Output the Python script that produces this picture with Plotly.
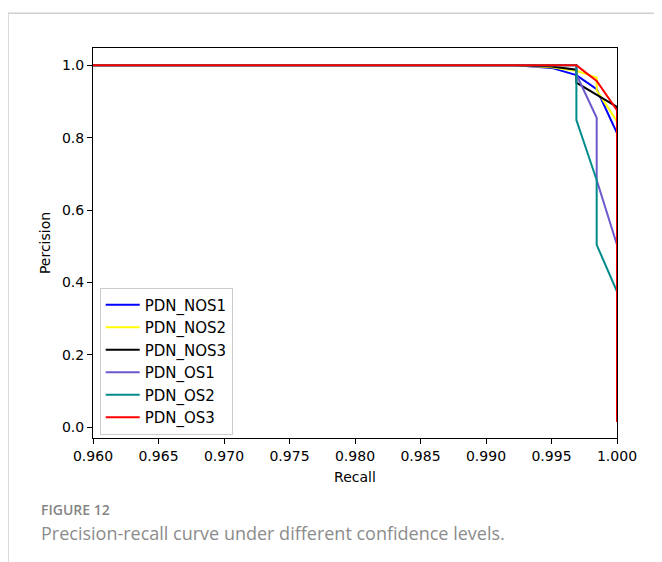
import plotly.graph_objects as go

# Recall / precision points per series
names = ["PDN_NOS1", "PDN_NOS2", "PDN_NOS3", "PDN_OS1", "PDN_OS2", "PDN_OS3"]
colors = ["#0000ff", "#ffff00", "#000000", "#6a5acd", "#008b8b", "#ff0000"]

nos1_recall = [0.96, 0.9923, 0.9950, 0.9969, 0.99845, 1.0, 1.0]
nos1_prec = [1.0, 1.0, 0.993, 0.973, 0.934, 0.813, 0.014]

nos2_recall = [0.96, 0.9923, 0.9950, 0.9969, 0.99845, 0.99845, 1.0, 1.0]
nos2_prec = [1.0, 1.0, 0.995, 0.985, 0.966, 0.931, 0.845, 0.014]

nos3_recall = [0.96, 0.9923, 0.9950, 0.9969, 0.9969, 1.0, 1.0]
nos3_prec = [1.0, 1.0, 0.997, 0.988, 0.952, 0.885, 0.014]

os1_recall = [0.96, 0.9969, 0.9969, 0.99845, 0.99845, 1.0, 1.0]
os1_prec = [1.0, 1.0, 0.975, 0.855, 0.683, 0.504, 0.014]

os2_recall = [0.96, 0.9969, 0.9969, 0.99845, 0.99845, 1.0, 1.0]
os2_prec = [1.0, 1.0, 0.849, 0.683, 0.504, 0.375, 0.014]

os3_recall = [0.96, 0.9969, 0.99845, 1.0, 1.0]
os3_prec = [1.0, 1.0, 0.957, 0.876, 0.014]

recalls = [nos1_recall, nos2_recall, nos3_recall, os1_recall, os2_recall, os3_recall]
precs = [nos1_prec, nos2_prec, nos3_prec, os1_prec, os2_prec, os3_prec]

x_ticks = [0.960, 0.965, 0.970, 0.975, 0.980, 0.985, 0.990, 0.995, 1.000]
x_tick_labels = ["0.960", "0.965", "0.970", "0.975", "0.980", "0.985", "0.990", "0.995", "1.000"]
y_ticks = [0.0, 0.2, 0.4, 0.6, 0.8, 1.0]
y_tick_labels = ["0.0", "0.2", "0.4", "0.6", "0.8", "1.0"]

fig = go.Figure()
for n, c, r, p in zip(names, colors, recalls, precs):
    fig.add_trace(go.Scatter(x=r, y=p, mode="lines", name=n,
                             line=dict(color=c, width=2)))

# plot area in page pixels (page has an 8px body offset)
PL, PR, PT, PB = 93.3, 617.3, 48.0, 438.5
OFF = 8
W, H = 662, 562
PW, PH = PR - PL, PB - PT


def px(x):
    return (x - PL) / PW


def py(y):
    return (PB - y) / PH


tick_font = dict(family="DejaVu Sans", size=14, color="#000000")
fig.update_layout(
    width=W, height=H,
    margin=dict(l=PL - OFF, r=W - (PR - OFF), t=PT - OFF, b=H - (PB - OFF)),
    paper_bgcolor="white", plot_bgcolor="white",
    showlegend=True,
    legend=dict(x=px(100), y=py(435), xanchor="left", yanchor="bottom",
                bgcolor="rgba(255,255,255,0.8)", bordercolor="#cccccc", borderwidth=1,
                font=dict(family="DejaVu Sans", size=15, color="#000000"),
                tracegroupgap=0, itemwidth=34),
    xaxis=dict(range=[0.96, 1.0], tickvals=x_ticks, ticktext=x_tick_labels,
               showgrid=False, zeroline=False, showline=True, linecolor="#000000",
               linewidth=1, mirror=True, ticks="outside", ticklen=5, tickcolor="#000000",
               tickfont=tick_font,
               title=dict(text="Recall", font=tick_font, standoff=9)),
    yaxis=dict(range=[-0.03, 1.048], tickvals=y_ticks, ticktext=y_tick_labels,
               showgrid=False, zeroline=False, showline=True, linecolor="#000000",
               linewidth=1, mirror=True, ticks="outside", ticklen=5, tickcolor="#000000",
               tickfont=tick_font,
               title=dict(text="Percision", font=tick_font, standoff=8)),
)

# page frame lines (light gray) to the left and top
fig.add_shape(type="line", xref="paper", yref="paper",
              x0=px(8.3), x1=px(W + 10), y0=py(13.3), y1=py(13.3),
              line=dict(color="#d0d0d0", width=1.5))
fig.add_shape(type="line", xref="paper", yref="paper",
              x0=px(8.3), x1=px(8.3), y0=py(13.3), y1=py(H + 10),
              line=dict(color="#d0d0d0", width=1.5))

fig.add_annotation(text="FIGURE 12", xref="paper", yref="paper",
                   x=px(39), y=py(510),
                   xanchor="left", yanchor="middle", showarrow=False,
                   font=dict(family="Open Sans", size=14, color="#858585", weight=600))
fig.add_annotation(text="Precision-recall curve under different confidence levels.",
                   xref="paper", yref="paper",
                   x=px(39), y=py(534),
                   xanchor="left", yanchor="middle", showarrow=False,
                   font=dict(family="Open Sans", size=18, color="#8c8c8c"))

fig.write_html("out.html")
